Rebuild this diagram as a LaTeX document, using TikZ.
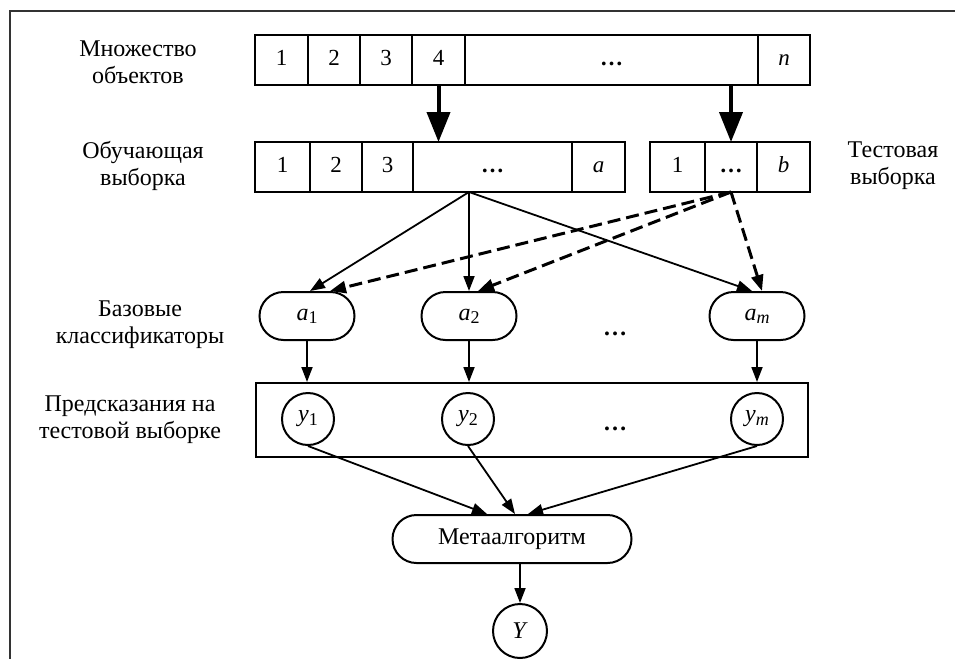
\documentclass[tikz,border=0pt]{standalone}
\usepackage{fontspec}
\setmainfont{Liberation Serif}
\usetikzlibrary{shapes.misc, positioning, arrows.meta, calc}

% italic symbol with a subscript
\newcommand{\ix}[2]{\textit{#1}\raisebox{-0.3ex}{\fontsize{18}{18}\selectfont#2}}
\newcommand{\dotsx}{\textbf{\ldots}}

\begin{document}
\begin{tikzpicture}[
        x=1pt, y=-1pt,
        font=\fontsize{24}{27}\selectfont,
        % Define styles for the nodes
        cell/.style={rectangle, draw=black, line width=2pt, minimum height=50pt, inner sep=0pt, outer sep=0pt, font=\fontsize{23}{27}\selectfont, execute at begin node=\strut},
        algo/.style={rounded rectangle, draw=black, line width=2pt, minimum height=48pt, inner sep=0pt},
        answer/.style={circle, draw=black, line width=2pt, minimum size=52pt, inner sep=0pt},
        panel/.style={rectangle, draw=black, line width=2.2pt, inner sep=0pt},
        caption/.style={align=center},
        myarrow/.style={-{Triangle[length=15pt, width=11pt]}, line width=1.8pt},
        bigarrow/.style={-{Triangle[length=30pt, width=23pt]}, line width=4pt},
        dasharrow/.style={-{Triangle[length=16pt, width=12pt]}, line width=3pt, dash pattern=on 13pt off 6pt},
        frame/.style={line width=1.6pt, draw=black!80}
    ]
        \useasboundingbox (0,0) rectangle (955,659);
        \draw[frame] (955,11) -- (10,11) -- (10,659);

        % --- Row of objects ---
        \node[cell, minimum width=53pt, anchor=north west] (o1) at (255,35) {1};
        \node[cell, minimum width=52pt, right=0pt of o1] (o2) {2};
        \node[cell, minimum width=52pt, right=0pt of o2] (o3) {3};
        \node[cell, minimum width=53pt, right=0pt of o3] (o4) {4};
        \node[cell, minimum width=293pt, right=0pt of o4] (odots) {\dotsx};
        \node[cell, minimum width=52pt, right=0pt of odots] (on) {\textit{n}};

        % --- Training and test samples ---
        \node[cell, minimum width=55pt, anchor=north west] (t1) at (255,142) {1};
        \node[cell, minimum width=52pt, right=0pt of t1] (t2) {2};
        \node[cell, minimum width=51pt, right=0pt of t2] (t3) {3};
        \node[cell, minimum width=159pt, right=0pt of t3] (tdots) {\dotsx};
        \node[cell, minimum width=53pt, right=0pt of tdots] (ta) {\textit{a}};

        \node[cell, minimum width=55pt, anchor=north west] (s1) at (650,142) {1};
        \node[cell, minimum width=52pt, right=0pt of s1] (sdots) {\dotsx};
        \node[cell, minimum width=53pt, right=0pt of sdots] (sb) {\textit{b}};

        % --- Base classifiers ---
        \node[algo, minimum width=95pt] (a1) at (307,316) {\ix{a}{1}};
        \node[algo, minimum width=95pt] (a2) at (469,316) {\ix{a}{2}};
        \node[algo, minimum width=95pt] (am) at (757,316) {\ix{a}{\textit{m}}};
        \node (adots) at (615,334) {\dotsx};

        % --- Predictions on the test sample ---
        \node[panel, minimum width=552pt, minimum height=74pt, anchor=north west] (pbox) at (255,382) {};
        \node[answer] (y1) at (308,419) {\ix{y}{1}};
        \node[answer] (y2) at (468,419) {\ix{y}{2}};
        \node[answer] (ym) at (757,419) {\ix{y}{\textit{m}}};
        \node (ydots) at (615,429) {\dotsx};

        % --- Meta algorithm and result ---
        \node[algo, minimum width=239pt] (meta) at (512,539) {Метаалгоритм};
        \node[answer, minimum size=54pt] (res) at (520,631) {\textit{Y}};

        % --- Captions ---
        \node[caption] (lset) at (138,62) {Множество\\объектов};
        \node[caption] (ltrain) at (143,166) {Обучающая\\выборка};
        \node[caption] (ltest) at (893,166) {Тестовая\\выборка};
        \node[caption] (lbase) at (140,325) {Базовые\\классификаторы};
        \node[caption] (lpred) at (130,420) {Предсказания на\\тестовой выборке};

        % --- Edges ---
        \draw[bigarrow] (o4.south) -- (o4.south |- tdots.north);
        \draw[bigarrow] (sdots.north |- odots.south) -- (sdots.north);

        \coordinate (tsrc) at (a2.north |- tdots.south);
        \draw[myarrow] (tsrc) -- ([xshift=3pt]a1.north);
        \draw[myarrow] (tsrc) -- (a2.north);
        \draw[myarrow] (tsrc) -- ([xshift=-5pt]am.north);

        \draw[dasharrow] (sdots.south) -- ([xshift=23pt]a1.north);
        \draw[dasharrow] (sdots.south) -- ([xshift=9pt]a2.north);
        \draw[dasharrow] (sdots.south) -- ([xshift=5pt]am.north);

        \draw[myarrow] (a1.south) -- (a1.south |- pbox.north);
        \draw[myarrow] (a2.south) -- (a2.south |- pbox.north);
        \draw[myarrow] (am.south) -- (am.south |- pbox.north);

        \draw[myarrow] (y1.south) -- ([xshift=-25pt]meta.north);
        \draw[myarrow] (y2.south) -- ([xshift=3pt]meta.north);
        \draw[myarrow] (ym.south) -- ([xshift=16pt]meta.north);

        \draw[myarrow] (res.north |- meta.south) -- (res.north);
    \end{tikzpicture}
\end{document}
